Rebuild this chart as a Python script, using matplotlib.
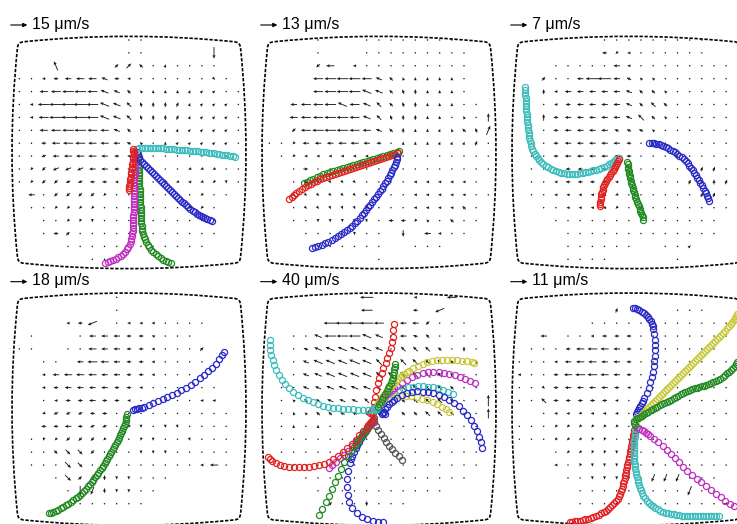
import numpy as np
import matplotlib.pyplot as plt
from matplotlib.path import Path
from matplotlib.patches import PathPatch

plt.rcParams['font.family'] = ['Liberation Sans', 'DejaVu Sans']

# velocidad de la flecha de referencia de cada panel
escalas = ["15 μm/s", "13 μm/s", "7 μm/s", "18 μm/s", "40 μm/s", "11 μm/s"]

# campos de velocidad (coordenadas de imagen x3)
# cada celda: direccion (a=E, e=N, i=O, m=S, pasos de 22.5 grados) + longitud
# "." = punto sin flujo, "_" = sin dato
campo1 = [
    "_ _ _ _ _ _ _ _ _ . . _",
    "_ _ _ _ _ _ _ _ _ . . _ _ _ _ _ m7",
    "_ _ _ f6 _ _ _ _ c3 c4 g3 . d2 . . . . _",
    ". . i2 i3 i4 i5 i5 h4 i3 i2 . . . . . . o2 . _",
    ". . i5 i6 i7 i7 i6 h5 h4 g3 g2 e2 e2 e2 d2 c2 c2 . .",
    ". i2 i7 i8 i8 i8 i7 h6 h5 g4 f3 e3 e3 d3 d2 c2 c2 c2 .",
    ". i2 i6 i8 i8 i8 i7 h6 h5 g4 f3 e3 e3 d3 d2 c2 c2 c2 .",
    ". . i5 i6 i7 i7 i6 i5 h4 g3 f2 e2 d2 d2 c2 c2 c2 c2 .",
    ". . i3 i5 i6 i6 i5 i5 i4 h3 g2 . e2 c2 c2 c2 c2 c2 .",
    ". . j3 i4 i5 i5 i5 i4 i3 i2 . . . . . . . . _",
    ". k2 k3 j4 j4 j4 i4 i4 i3 i2 . . . . j2 j2 j2 . .",
    ". k2 k3 k3 j3 j3 i3 i3 i2 . . . k2 j2 i2 j2 k2 m2 .",
    "_ i4 . k3 k3 k3 k3 k2 . . . . . . . k2 . . _",
    "_ . . k2 k2 k2 k2 . . . . . . . k2 k2 . _",
    "_ _ . . k2 l2 m2 . . . . . . . . . . _",
    "_ _ . i3 c3 . . . . . . . . . . . . _",
    "_ _ _ _ . . . . . . . . . . . . _",
    "_ _ _ _ _ _ . . _",
]
campo2 = [
    "_ _ _ _ . _ _ _ . . . . . . . . _",
    "_ _ _ _ . _ _ _ . . . . . . . . . _",
    "_ _ _ _ k3 i5 _ i2 . . . . . . . . . _",
    "_ _ _ _ i6 i7 i7 i7 i6 h4 g3 f2 e2 e2 e2 e2 . _",
    "_ _ _ _ i6 i7 i7 i7 h6 h5 g3 f3 e3 e2 e2 e2 . _",
    "_ _ i4 i6 i6 i7 h6 i6 h5 g4 g3 f3 e3 e2 e2 e2 . . _",
    "_ _ i5 i6 i6 i7 i7 i6 h5 g4 f3 e3 e3 e2 e2 . f2 . e5",
    "_ _ k3 i6 i7 i7 i7 i6 i5 h4 g3 e3 e2 e2 d2 f2 g3 f3 d6",
    ". . k2 i4 i4 i4 i5 i5 i4 i3 . e2 e2 e2 d2 d2 d2 d3 .",
    "_ . k2 i2 i2 i2 i2 i2 i2 . . . . . . . . . .",
    "_ _ . a3 . . . . . . . . . . . . . . .",
    "_ _ . o3 o2 o2 o2 o2 . . . . i2 i2 i2 i2 i2 . _",
    "_ _ o3 o2 o2 o2 o2 o2 o2 . . . i2 i2 i2 i2 i2 . .",
    "_ _ . o2 o2 n2 n2 n2 n2 . . . i2 i2 i2 i2 g3 . _",
    "_ _ . . m2 m2 m2 n2 n2 . i3 i3 k2 g2 . g3 . . _",
    "_ _ _ . . . . m2 . . _ m4 _ i4 i2 . . _",
    "_ _ _ _ . . . . . . _ _ . . . _",
    "_ _ _ _ _ _ _ _ _ . _",
]
campo3 = [
    "_ _ _ _ _ _ _ . . . . . . . . . _",
    "_ _ _ _ _ _ _ i3 k2 i2 . . . . . . _",
    "_ _ _ . . . . . i4 i2 . . . . . . . . _",
    "_ _ c3 . . i4 i8 i8 i4 h3 g2 g2 . . . . . . _",
    "_ _ e3 i2 i4 i4 i4 i4 i4 h4 g3 g3 g2 . . . . . _",
    "_ _ . i2 i3 i4 i4 i4 i4 h4 g3 g4 g3 . . . . . _",
    "_ _ e4 i3 i4 i4 i4 i4 i4 h4 g5 g3 g2 . . . . . _",
    "_ . . i3 i4 i4 i4 i4 h3 h3 h3 g2 . . . . . . _",
    "_ . . i3 i4 i4 i4 i4 i4 i3 . . . . . . . . _",
    "_ . . i3 i4 i4 i4 i4 i3 i3 . . . . . . . . _",
    "_ . . . i3 i3 i3 i3 i2 . . . . . . d3 d3 . _",
    "_ . . i2 i3 i3 i3 i3 i2 . . . . . d3 d3 e3 d3 _",
    "_ . . i2 i2 i2 i2 i2 j2 . . . . . . d3 d3 . _",
    "_ _ . . i2 i2 i2 i2 k2 . . . . . . . . . _",
    "_ _ _ . . . . . . . . . . . . . . _",
    "_ _ _ _ . . . . . . . . . . . . . _",
    "_ _ _ _ . . . . . . _ _ . . c2 _",
    "_ _ _ _ . . . . _ _ _ _ _ . _",
]
campo4 = [
    "_ _ _ _ _ _ _ _ .",
    "_ _ _ _ _ _ _ _ .",
    "_ _ _ _ i2 i3 j6 _ . i2 i2 i2 . . . . _",
    "_ . _ _ _ . i4 i4 i4 i3 i3 h2 . . . _",
    ". . _ _ . . i5 i4 i4 i3 i3 i2 . . . c3 _",
    "_ _ . . _ i4 i6 i5 i4 i3 i3 i2 . . . . _",
    "_ _ i2 i4 i5 i5 i5 i4 i4 i3 i3 i2 . . . . _",
    "_ _ i2 i3 i4 i4 i4 i4 i3 i3 i2 . . . . . . _",
    "_ _ . i2 i3 i3 i4 i3 i3 i2 . . . . . i2 i2 _",
    "_ _ j2 j3 j3 j3 i3 i3 . . . . . . . . . .",
    "_ _ i3 i3 i4 i3 j3 j3 . k2 m2 . m2 n2 . . . .",
    "_ . l2 k2 k3 k3 k3 k2 . . l2 m2 . . n2 . . .",
    "_ . . o3 o4 o4 k3 . . . m2 m2 m2 . . . . .",
    "_ . . . o5 o4 . . . . . . . . . i2 i5 .",
    "_ _ _ . o5 c3 k3 m3 m2 m2 . . .",
    "_ _ _ _ . m6 l5 m3 m2 m2 . .",
    "_ _ _ _ _ . . . . . .",
]
campo5 = [
    "_ _ _ _ _ _ _ _ i8 _ _ _ i2 _ _ i6",
    "_ _ _ _ _ _ _ _ i7 _ _ _ i3 _ j6",
    "_ _ _ _ _ i8 i8 i8 i8 i6 _ i4 i4 k3 . . .",
    "_ _ . . h5 i7 i7 i7 h6 h5 . i4 h3 g3 . . . .",
    "_ _ . h3 h5 h6 h6 h6 h6 h5 . g4 g4 g4 g3 . e3 .",
    "_ _ . h4 h6 h6 h6 h7 h6 g5 _ g5 g5 g4 g4 g3 . f3",
    "_ _ . h4 h5 h6 h6 h6 h6 g5 g5 g5 g5 g5 g4 g3 . .",
    "_ . . h4 h4 h5 h5 h5 h5 g4 g4 g4 g5 g4 g4 g3 . .",
    "_ . g2 g3 g3 h4 h4 h4 g4 g3 . g3 g4 g4 g4 g3 . . e7",
    "_ . f2 g2 g3 g3 h3 h3 g3 g3 _ g3 g3 g4 g4 g3 . . e6",
    "_ . e2 . e2 . . . . _ _ . . . . . . .",
    "_ . . . . . . e2 . . . . . . g2 . . .",
    "_ . . . . . . . . . . . . . . . . .",
    "_ _ . . . . . . . . . . . . . . . .",
    "_ _ _ . . . . . . . . . . . . . .",
    "_ _ _ _ . . . . . . . . . . .",
    "_ _ _ _ _ c3 . . m3 . . .",
]
campo6 = [
    "",
    "_ _ _ _ _ _ _ _ d3 _ _ _ _ . . .",
    "_ _ _ _ _ _ . . . . . . . . . . . .",
    "_ _ i4 _ . . i2 i3 i3 i3 . . . . . . . .",
    "_ . . . i3 i5 i6 i5 i4 i3 . . . . . . .",
    ". . . i2 i4 i5 i5 i4 i4 i3 . . . . . . . .",
    "i2 . . i3 i5 i6 i6 i5 i4 i3 . . . . . . . .",
    ". . o2 i3 i4 i4 i4 i4 i3 i2 . . . . . . . .",
    ". . g4 i3 i3 i3 i3 i3 i2 . . . . . . . . .",
    "_ _ . i2 i2 j2 i2 i2 i2 . . . . . . . . .",
    ". . . k2 k2 k2 k2 k2 k2 . . . . . . . .",
    ". . . k2 k2 k2 l2 l2 . . . . . . . . . .",
    "_ _ _ . k2 k2 l2 l2 m2 . . . . . . . .",
    "_ _ _ i2 . l2 m2 m2 m2 . . m2 . . . . . .",
    "_ _ _ _ . . m2 m2 m2 m2 . l5 l5 l5 . . .",
    "_ _ _ _ _ . . . . . . . . . l6 . .",
    "_ _ _ _ _ . . . . . . . . . . . . a4",
]

# trayectorias (x, y) en las mismas coordenadas
p1_cian = [(410,446),(418,444),(426,443),(434,443),(442,443),(450,443),(458,444),(466,444),(474,444),(482,445),(490,445),(498,446),(506,447),(514,447),(522,448),(530,449),(538,449),(546,450),(554,451),(562,451),(570,452),(578,453),(586,453),(594,454),(602,455),(610,456),(618,457),(626,458),(634,459),(642,460),(650,461),(658,462),(666,464),(674,465),(682,466),(690,467),(698,469),(706,470)]
p1_azul = [(410,455),(413,463),(417,471),(421,479),(426,486),(431,493),(437,499),(443,505),(449,511),(455,517),(461,523),(467,529),(473,535),(479,541),(485,547),(491,553),(497,559),(503,565),(509,571),(515,577),(521,583),(527,588),(533,594),(539,600),(545,605),(551,610),(558,616),(564,621),(571,627),(578,632),(584,637),(591,641),(597,645),(604,649),(610,652),(616,655),(622,658),(629,660),(635,662)]
p1_rojo = [(400,448),(398,452),(403,458),(401,463),(402,455),(400,470),(399,478),(398,485),(397,492),(396,500),(395,508),(394,515),(393,523),(392,530),(391,538),(390,545),(389,552),(388,558),(387,564),(386,570)]
p1_magenta = [(406,468),(406,476),(405,484),(405,492),(404,500),(404,508),(404,516),(404,524),(403,532),(403,540),(403,548),(403,556),(402,564),(402,572),(402,580),(402,588),(402,596),(401,604),(401,612),(401,620),(401,628),(401,636),(400,644),(400,652),(400,660),(399,668),(399,676),(398,684),(398,692),(397,700),(396,708),(394,716),(392,724),(389,732),(385,740),(380,748),(375,755),(369,761),(362,767),(355,772),(347,777),(339,781),(331,784),(323,787),(316,790)]
p1_verde = [(414,470),(414,478),(415,486),(415,494),(416,502),(416,510),(416,518),(417,526),(417,534),(418,542),(418,550),(418,558),(419,566),(419,574),(420,582),(420,590),(420,598),(421,606),(421,614),(422,622),(422,630),(422,638),(423,646),(423,654),(424,662),(424,670),(425,678),(426,686),(427,694),(429,702),(431,710),(434,718),(438,726),(443,734),(448,742),(454,749),(460,756),(467,762),(474,768),(482,774),(490,779),(498,784),(505,787),(512,790)]

p2_verde = [(448,452),(440,455),(430,458),(420,462),(410,465),(400,468),(390,471),(380,474),(370,477),(360,480),(350,483),(340,486),(330,489),(320,492),(310,495),(300,498),(290,501),(280,504),(270,507),(260,510),(250,513),(240,516),(230,519),(220,523),(210,527),(200,531),(190,536),(180,541),(170,546),(163,550)]
p2_rojo = [(443,458),(434,461),(425,464),(416,467),(407,470),(398,473),(389,476),(380,479),(371,482),(362,485),(353,488),(344,491),(335,494),(326,497),(317,500),(308,503),(299,506),(290,509),(281,512),(272,515),(263,518),(254,521),(245,524),(236,527),(227,531),(218,534),(209,538),(200,542),(191,547),(182,551),(173,556),(164,561),(155,566),(147,572),(139,578),(132,584),(125,590),(118,596)]
p2_azul = [(442,470),(440,478),(437,486),(434,494),(431,502),(427,510),(423,518),(419,526),(415,534),(410,542),(405,550),(400,558),(395,566),(390,574),(384,582),(379,590),(373,598),(367,606),(361,614),(355,622),(349,630),(343,638),(336,646),(329,654),(322,662),(315,669),(307,677),(299,684),(291,690),(282,697),(273,703),(264,709),(255,715),(245,720),(235,725),(225,730),(215,734),(205,738),(195,741),(185,744)]

p3_cian = [(75,262),(75,270),(76,278),(76,286),(77,294),(77,302),(78,310),(78,318),(79,326),(79,334),(80,342),(80,350),(81,358),(82,366),(83,374),(84,382),(85,390),(86,398),(87,406),(88,414),(90,422),(92,430),(94,438),(97,446),(100,454),(104,461),(108,468),(113,475),(118,481),(124,487),(130,492),(137,497),(144,502),(152,506),(160,510),(168,513),(176,516),(184,518),(192,520),(200,521),(208,522),(216,522),(224,522),(232,521),(240,520),(248,519),(256,517),(264,515),(272,513),(280,511),(288,509),(296,506),(304,503),(312,500),(320,497),(327,493),(334,489),(340,485),(346,481),(351,478),(356,475)]
p3_rojo = [(358,476),(355,482),(352,488),(349,494),(346,500),(342,506),(338,512),(334,518),(330,524),(326,530),(322,536),(318,542),(315,548),(312,555),(310,562),(308,569),(306,576),(304,583),(303,590),(302,598),(301,605),(300,612),(300,618)]
p3_verde = [(382,486),(383,493),(384,500),(385,507),(386,514),(387,521),(389,528),(390,535),(392,542),(394,549),(396,556),(398,563),(400,570),(402,577),(404,584),(406,591),(409,598),(411,605),(414,612),(416,619),(419,626),(421,633),(424,640),(426,646),(428,652),(430,660)]
p3_azul = [(448,428),(455,429),(462,430),(469,431),(476,433),(483,435),(490,438),(497,441),(504,445),(511,449),(518,453),(525,457),(532,462),(538,467),(545,472),(551,478),(557,484),(563,490),(568,497),(573,504),(578,511),(583,518),(588,526),(592,533),(597,541),(601,548),(606,556),(610,564),(614,572),(617,580),(620,588),(623,595),(626,603)]

p4_azul = [(398,434),(404,433),(410,432),(418,430),(425,428),(432,426),(446,421),(460,415),(474,409),(488,403),(502,397),(516,390),(530,383),(544,376),(558,368),(572,359),(586,350),(600,340),(613,330),(625,319),(637,308),(648,296),(658,283),(666,271),(671,260)]
p4_verde = [(380,448),(379,455),(378,462),(377,469),(375,476),(373,483),(370,490),(367,497),(364,504),(361,511),(357,518),(354,525),(350,532),(346,539),(342,546),(338,553),(334,560),(330,567),(326,574),(322,581),(318,588),(314,595),(309,602),(305,609),(300,616),(295,623),(290,630),(285,637),(280,644),(275,651),(270,658),(265,664),(259,671),(253,677),(247,683),(241,689),(234,695),(227,700),(220,706),(213,711),(205,716),(198,721),(190,726),(183,730),(175,734),(168,737),(160,740),(153,743),(146,745)]

p5_gris = [(364,470),(368,465),(372,460),(372,470),(378,482),(385,494),(393,506),(401,518),(409,530),(418,542),(427,553),(436,563),(446,574),(455,585)]
p5_azul_b = [(365,475),(358,483),(352,492),(346,501),(340,510),(334,520),(328,530),(322,540),(317,550),(312,561),(307,572),(303,583),(300,595),(295,618),(292,642),(291,666),(293,690),(298,712),(307,730),(320,745),(336,756),(352,763),(368,768),(384,770),(400,771)]
p5_magenta_b = [(370,468),(365,474),(360,480),(355,486),(350,492),(345,498),(340,505),(335,511),(330,518),(324,524),(318,531),(306,544),(294,557),(282,569),(270,580),(258,590),(246,600),(236,608)]
p5_verde_b = [(362,475),(357,482),(352,490),(347,497),(342,505),(336,512),(330,520),(324,528),(318,537),(312,546),(306,555),(294,573),(283,592),(273,612),(264,632),(255,652),(246,672),(237,692),(227,712),(217,731),(207,750)]
p5_rojo_b = [(370,462),(365,468),(360,474),(355,480),(350,486),(339,498),(328,511),(317,524),(305,537),(292,550),(278,562),(264,573),(250,582),(236,590),(222,596),(207,601),(192,604),(177,606),(162,607),(147,607),(132,606),(117,605),(103,603),(90,600),(78,595),(67,588),(59,581),(55,575)]
p5_rojo_a = [(360,445),(368,444),(362,440),(366,436),(365,440),(372,425),(372,410),(375,395),(378,375),(383,355),(388,340),(395,325),(400,310),(407,295),(412,280),(418,265),(422,248),(425,230),(428,215),(430,195),(432,178)]
p5_cian_a = [(380,428),(378,436),(372,430),(375,433),(365,435),(355,435),(340,435),(325,434),(310,432),(295,432),(280,431),(265,430),(250,428),(235,426),(220,422),(205,418),(190,412),(175,405),(160,398),(145,390),(130,380),(117,370),(105,358),(95,345),(86,330),(78,315),(72,300),(68,285),(64,270),(61,255),(60,240),(59,225)]
p5_cian_b = [(385,425),(395,410),(405,398),(418,388),(432,380),(446,374),(460,370),(475,367),(490,365),(505,364),(520,364),(535,365),(550,367),(565,370),(580,374),(595,380),(608,388)]
p5_amarillo_b = [(405,405),(420,398),(436,393),(452,392),(468,392),(484,394),(500,397),(516,401),(532,405),(548,410),(562,417),(575,425),(587,433),(597,442)]
p5_azul_a = [(396,447),(402,440),(405,448),(400,445),(406,432),(412,425),(418,418),(425,412),(432,406),(440,400),(455,390),(470,384),(486,380),(502,379),(518,380),(534,382),(550,385),(566,390),(582,396),(598,404),(613,413),(627,424),(640,437),(652,451),(663,466),(673,482),(681,498),(688,515),(693,532),(697,548)]
p5_magenta_a = [(390,410),(395,404),(400,398),(406,392),(412,386),(418,380),(425,375),(432,369),(440,364),(455,354),(470,345),(486,337),(502,330),(518,325),(534,322),(550,321),(566,322),(582,324),(598,327),(614,331),(630,336),(645,341),(660,347),(674,354)]
p5_amarillo_a = [(385,415),(390,408),(395,400),(400,392),(405,385),(410,378),(415,372),(420,366),(426,360),(432,354),(438,348),(444,342),(450,337),(456,332),(463,327),(470,322),(476,318),(490,310),(504,303),(518,297),(532,292),(546,288),(560,286),(575,285),(590,284),(605,284),(620,285),(635,287),(650,289),(665,291),(672,293)]
p5_verde_a = [(385,425),(388,418),(392,410),(396,402),(400,395),(405,386),(410,378),(414,370),(418,362),(422,354),(425,346),(428,338),(430,330),(432,322),(433,313),(434,305),(435,297)]

p6_azul = [(400,128),(406,130),(412,133),(418,136),(425,140),(431,145),(438,150),(443,156),(448,162),(452,169),(455,176),(458,184),(460,192),(463,208),(465,224),(466,240),(466,256),(465,272),(463,288),(461,304),(458,320),(455,336),(451,352),(446,368),(440,384),(433,400),(429,408),(425,415),(421,422),(417,428),(413,434),(410,440),(407,446)]
p6_amarillo = [(410,464),(416,457),(422,450),(428,444),(434,438),(440,432),(446,426),(452,420),(458,414),(464,408),(470,402),(476,396),(482,390),(488,384),(494,378),(500,372),(506,366),(512,360),(518,354),(524,348),(530,342),(536,336),(542,330),(548,324),(554,318),(560,312),(566,306),(572,300),(578,294),(584,288),(590,282),(596,276),(602,270),(608,264),(614,258),(620,252),(626,246),(632,240),(638,234),(644,228),(650,222),(656,216),(662,210),(668,203),(674,197),(680,190),(686,184),(692,177),(697,170),(702,164),(706,158),(709,153),(712,148)]
p6_verde = [(405,480),(402,474),(403,468),(408,463),(414,459),(420,455),(426,452),(432,448),(439,444),(445,440),(452,436),(458,432),(465,428),(472,425),(479,421),(486,418),(493,414),(500,411),(507,407),(514,404),(521,400),(528,396),(535,392),(542,388),(549,384),(556,381),(563,378),(570,375),(577,372),(584,370),(591,368),(598,366),(605,364),(612,362),(619,360),(626,358),(633,355),(640,352),(647,349),(654,345),(661,341),(668,336),(675,331),(682,325),(688,320),(694,314),(699,308),(704,302),(708,296),(711,290)]
p6_magenta = [(412,487),(418,491),(425,495),(431,499),(438,503),(444,508),(450,512),(462,522),(475,532),(488,543),(500,555),(512,567),(524,580),(536,592),(549,605),(562,617),(576,629),(590,641),(604,652),(619,663),(634,674),(648,686),(662,697),(676,707),(690,716),(702,722)]
p6_cian = [(408,492),(406,500),(405,508),(404,516),(403,524),(403,532),(402,540),(402,548),(402,556),(402,564),(402,572),(403,580),(403,588),(404,596),(405,604),(406,612),(408,620),(409,628),(411,636),(413,644),(415,652),(417,660),(420,668),(423,676),(426,684),(430,692),(435,700),(440,707),(446,714),(452,719),(459,724),(466,729),(473,733),(481,737),(489,740),(497,743),(505,745),(513,747),(521,748),(529,750),(537,751),(545,752),(553,752),(561,753),(569,753),(577,754),(585,754),(593,754),(601,754),(609,754),(617,754),(625,754),(633,754),(641,754),(649,753),(658,753)]
p6_rojo = [(402,495),(401,503),(399,511),(398,519),(396,527),(395,535),(393,543),(392,551),(390,559),(389,567),(387,575),(386,583),(384,591),(382,599),(381,607),(379,615),(377,623),(376,631),(374,639),(372,647),(370,655),(368,663),(366,671),(363,679),(360,687),(357,694),(353,701),(348,708),(343,715),(337,721),(331,727),(325,732),(318,737),(311,741),(304,745),(296,749),(288,752),(280,755),(272,758),(264,761),(256,763),(248,765),(240,767),(232,768),(224,769),(216,770),(210,770)]

colores = {"cian": "#3fbcbc", "azul": "#2a2ac8", "rojo": "#e22222", "verde": "#238a23",
           "magenta": "#c030c0", "amarillo": "#c9c93a", "gris": "#555555"}

paneles = [
    (campo1, [("verde", p1_verde), ("magenta", p1_magenta), ("azul", p1_azul), ("cian", p1_cian), ("rojo", p1_rojo)]),
    (campo2, [("verde", p2_verde), ("rojo", p2_rojo), ("azul", p2_azul)]),
    (campo3, [("cian", p3_cian), ("rojo", p3_rojo), ("verde", p3_verde), ("azul", p3_azul)]),
    (campo4, [("azul", p4_azul), ("verde", p4_verde)]),
    (campo5, [("gris", p5_gris), ("azul", p5_azul_b), ("magenta", p5_magenta_b), ("verde", p5_verde_b),
              ("rojo", p5_rojo_b), ("rojo", p5_rojo_a), ("cian", p5_cian_a), ("cian", p5_cian_b),
              ("amarillo", p5_amarillo_b), ("azul", p5_azul_a), ("magenta", p5_magenta_a),
              ("amarillo", p5_amarillo_a), ("verde", p5_verde_a)]),
    (campo6, [("rojo", p6_rojo), ("cian", p6_cian), ("magenta", p6_magenta), ("azul", p6_azul),
              ("amarillo", p6_amarillo), ("verde", p6_verde)]),
]

# recorte de cada panel en pixeles (x, y, ancho, alto)
recortes = [(0, 0, 250, 270), (250, 0, 260, 270), (500, 0, 237, 270),
            (0, 265, 250, 259), (250, 265, 260, 259), (500, 265, 237, 259)]

W, H = 737, 524
direcciones = "abcdefghijklmnop"


def leer_campo(filas, y0):
    X, Y, U, V = [], [], [], []
    for k, fila in enumerate(filas):
        for j, c in enumerate(fila.split()):
            if c == "_":
                continue
            if c == ".":
                L, th = 0.0, 0.0
            else:
                th = np.deg2rad(direcciones.index(c[0]) * 22.5)
                L = int(c[1]) * 5.0
            X.append(58 + 36.5 * j)
            Y.append(y0 + 38.7 * k)
            U.append(L * np.cos(th))
            V.append(-L * np.sin(th))
    return X, Y, U, V


def caja(T):
    L, R, B = 52, 722, T + 665
    r, b = 22, 16
    mx, my = (L + R) / 2, (T + B) / 2
    verts = [(L + r, T), (mx, T - 2 * b), (R - r, T), (R, T), (R, T + r),
             (R + 2 * b, my), (R, B - r), (R, B), (R - r, B),
             (mx, B + 2 * b), (L + r, B), (L, B), (L, B - r),
             (L - 2 * b, my), (L, T + r), (L, T), (L + r, T)]
    codes = [Path.MOVETO] + [Path.CURVE3] * 16
    return Path(verts, codes)


fig = plt.figure(figsize=(W / 100, H / 100), dpi=100)

for i, (cx, cy, w, h) in enumerate(recortes):
    ax = fig.add_axes([cx / W, 1 - (cy + h) / H, w / W, h / H])
    ax.set_xlim(0, 3 * w)
    ax.set_ylim(3 * h, 0)
    ax.axis('off')
    ax.patch.set_alpha(0)

    arriba = i < 3
    campo, trayectorias = paneles[i]

    X, Y, U, V = leer_campo(campo, 120 if arriba else 97)
    ax.quiver(X, Y, U, V, angles='xy', scale_units='xy', scale=1, pivot='mid',
              units='dots', width=0.9, headwidth=3.5, headlength=4, headaxislength=3.6,
              minlength=1.8, color='#1a1a1a')

    for nombre, puntos in trayectorias:
        p = np.array(puntos)
        ax.plot(p[:, 0], p[:, 1], 'o', mfc='none', mec=colores[nombre],
                ms=4.4, mew=0.9, clip_on=False)

    ax.add_patch(PathPatch(caja(125 if arriba else 100), fill=False, ec='black',
                           lw=1.2, ls=(0, (2, 1)), clip_on=False))

    # flecha de escala y su valor
    ya = 75 if arriba else 50
    ax.annotate('', xy=(82, ya), xytext=(32, ya), annotation_clip=False,
                arrowprops=dict(arrowstyle='-|>', lw=0.8, color='black',
                                mutation_scale=6, shrinkA=0, shrinkB=0))
    ax.text(95, ya - 3, escalas[i], fontsize=11.5, ha='left', va='center', clip_on=False)

fig.savefig('out.png', dpi=100)
